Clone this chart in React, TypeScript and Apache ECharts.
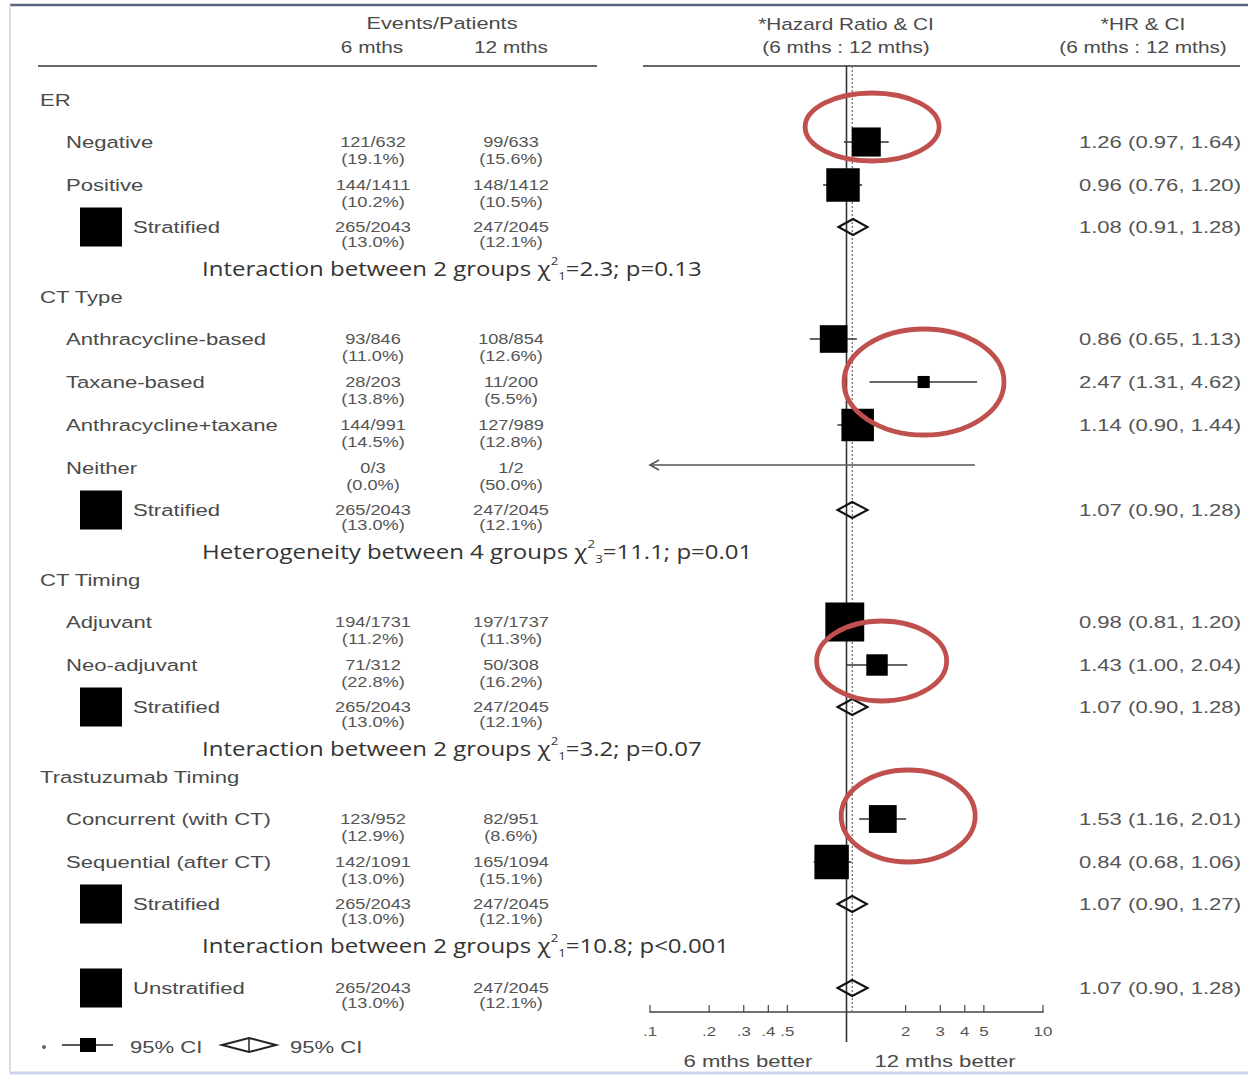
import React, { useEffect, useRef } from "react";
import * as echarts from "echarts";

// ---------------- data ----------------
const rowKinds = [
  "group", "sub", "sub", "strat", "test",
  "group", "sub", "sub", "sub", "sub", "strat", "test",
  "group", "sub", "sub", "strat", "test",
  "group", "sub", "sub", "strat", "test",
  "overall",
];
const rowLabels = [
  "ER", "Negative", "Positive", "Stratified", "",
  "CT Type", "Anthracycline-based", "Taxane-based", "Anthracycline+taxane", "Neither", "Stratified", "",
  "CT Timing", "Adjuvant", "Neo-adjuvant", "Stratified", "",
  "Trastuzumab Timing", "Concurrent (with CT)", "Sequential (after CT)", "Stratified", "",
  "Unstratified",
];
const events6 = [
  "", "121/632", "144/1411", "265/2043", "",
  "", "93/846", "28/203", "144/991", "0/3", "265/2043", "",
  "", "194/1731", "71/312", "265/2043", "",
  "", "123/952", "142/1091", "265/2043", "",
  "265/2043",
];
const pct6 = [
  "", "(19.1%)", "(10.2%)", "(13.0%)", "",
  "", "(11.0%)", "(13.8%)", "(14.5%)", "(0.0%)", "(13.0%)", "",
  "", "(11.2%)", "(22.8%)", "(13.0%)", "",
  "", "(12.9%)", "(13.0%)", "(13.0%)", "",
  "(13.0%)",
];
const events12 = [
  "", "99/633", "148/1412", "247/2045", "",
  "", "108/854", "11/200", "127/989", "1/2", "247/2045", "",
  "", "197/1737", "50/308", "247/2045", "",
  "", "82/951", "165/1094", "247/2045", "",
  "247/2045",
];
const pct12 = [
  "", "(15.6%)", "(10.5%)", "(12.1%)", "",
  "", "(12.6%)", "(5.5%)", "(12.8%)", "(50.0%)", "(12.1%)", "",
  "", "(11.3%)", "(16.2%)", "(12.1%)", "",
  "", "(8.6%)", "(15.1%)", "(12.1%)", "",
  "(12.1%)",
];
const hrVals = [
  null, 1.26, 0.96, 1.08, null,
  null, 0.86, 2.47, 1.14, null, 1.07, null,
  null, 0.98, 1.43, 1.07, null,
  null, 1.53, 0.84, 1.07, null,
  1.07,
];
const ciLow = [
  null, 0.97, 0.76, 0.91, null,
  null, 0.65, 1.31, 0.9, null, 0.9, null,
  null, 0.81, 1.0, 0.9, null,
  null, 1.16, 0.68, 0.9, null,
  0.9,
];
const ciHigh = [
  null, 1.64, 1.2, 1.28, null,
  null, 1.13, 4.62, 1.44, 4.5, 1.28, null,
  null, 1.2, 2.04, 1.28, null,
  null, 2.01, 1.06, 1.27, null,
  1.28,
];
const testPrefix = [
  "Interaction between 2 groups",
  "Heterogeneity between 4 groups",
  "Interaction between 2 groups",
  "Interaction between 2 groups",
];
const testDf = ["1", "3", "1", "1"];
const testChi = ["2.3", "11.1", "3.2", "10.8"];
const testP = ["p=0.13", "p=0.01", "p=0.07", "p<0.001"];
const overallHR = 1.07;
const tickValues = [0.1, 0.2, 0.3, 0.4, 0.5, 1, 2, 3, 4, 5, 10];
const tickLabels = [".1", ".2", ".3", ".4", ".5", "", "2", "3", "4", "5", "10"];

// ---------------- layout ----------------
const SX = 1.3;
const ARIAL = '"Liberation Sans", Arial, sans-serif';
const OPEN = '"Open Sans", "Noto Sans", sans-serif';
const PLOT_TOP = 66;
const PLOT_BOTTOM = 1012;
const BOX_K = 3.9;
const STEP: Record<string, number> = {
  "group>sub": 42, "sub>sub": 43, "sub>strat": 42, "strat>test": 41,
  "test>group": 29, "test>overall": 43,
};
const rowY: number[] = [];
rowKinds.forEach((k, i) => {
  rowY.push(i === 0 ? 100 : rowY[i - 1] + STEP[rowKinds[i - 1] + ">" + k]);
});
const circled = [
  { row: 1, hr: 1.35, dy: -15, rx: 67, ry: 34 },
  { row: 7, hr: 2.48, dy: 0, rx: 80, ry: 53 },
  { row: 14, hr: 1.51, dy: -4, rx: 65, ry: 40 },
  { row: 18, hr: 2.06, dy: -3, rx: 67, ry: 46 },
];

function txt(x: number, y: number, text: string, size: number, o: any = {}) {
  const align = o.align || "left";
  const style: any = {
    text, fontSize: size, fontFamily: o.font || ARIAL, fill: o.fill || "#4a4a4a",
    align, textAlign: align, verticalAlign: "middle", textVerticalAlign: "middle",
  };
  if (o.rich) { style.rich = o.rich; style.lineHeight = o.lineHeight; }
  return { type: "text", x, y, scaleX: o.sx ?? SX, silent: true, z: 10, style };
}
function line(x1: number, y1: number, x2: number, y2: number, stroke: string, lineWidth: number) {
  return { type: "line", silent: true, shape: { x1, y1, x2, y2 }, style: { stroke, lineWidth } };
}

export default function App() {
  const ref = useRef<HTMLDivElement>(null);
  useEffect(() => {
    if (!ref.current) return;
    const chart = echarts.init(ref.current, undefined, { renderer: "svg" });

    const g: any[] = [];
    // frame
    g.push(line(10, 5, 1248, 5, "#5a6581", 2.5));
    g.push(line(10, 5, 10, 1073, "#d2d2d2", 1.5));
    g.push(line(10, 1073, 1248, 1073, "#c9d5ee", 3));
    // headers
    g.push(txt(442, 24, "Events/Patients", 16, { align: "center", sx: 1.36 }));
    g.push(txt(372, 47, "6 mths", 16, { align: "center" }));
    g.push(txt(511, 47, "12 mths", 16, { align: "center" }));
    g.push(txt(846, 24, "*Hazard Ratio & CI", 16, { align: "center" }));
    g.push(txt(846, 47, "(6 mths : 12 mths)", 16, { align: "center" }));
    g.push(txt(1143, 24, "*HR & CI", 16, { align: "center" }));
    g.push(txt(1143, 47, "(6 mths : 12 mths)", 16, { align: "center" }));
    g.push(line(38, PLOT_TOP, 597, PLOT_TOP, "#666", 2));
    g.push(line(643, PLOT_TOP, 1240, PLOT_TOP, "#666", 2));

    let t = 0;
    rowKinds.forEach((k, i) => {
      const y = rowY[i];
      if (k === "group") g.push(txt(40, y, rowLabels[i], 17));
      if (k === "sub") g.push(txt(66, y, rowLabels[i], 17));
      if (k === "strat" || k === "overall") {
        g.push({ type: "rect", silent: true, shape: { x: 80, y: y - 19.5, width: 42, height: 39 }, style: { fill: "#000" } });
        g.push(txt(133, y, rowLabels[i], 17));
      }
      if (k === "test") {
        const rich = {
          sup: { fontSize: 11, fontFamily: OPEN, fill: "#333", verticalAlign: "top", lineHeight: 26 },
          sub: { fontSize: 11, fontFamily: OPEN, fill: "#333", verticalAlign: "bottom", lineHeight: 26 },
        };
        const s = `${testPrefix[t]} χ{sup|2}{sub|${testDf[t]}}=${testChi[t]}; ${testP[t]}`;
        g.push(txt(202, y, s, 20, { font: OPEN, fill: "#333", rich, lineHeight: 26, sx: 1.2 }));
        t++;
      }
      if (events6[i]) {
        const d = k === "sub" ? 17 : 15;
        g.push(txt(373, y, events6[i], 14, { align: "center", fill: "#555" }));
        g.push(txt(373, y + d, pct6[i], 14, { align: "center", fill: "#555" }));
        g.push(txt(511, y, events12[i], 14, { align: "center", fill: "#555" }));
        g.push(txt(511, y + d, pct12[i], 14, { align: "center", fill: "#555" }));
      }
      const hr = hrVals[i];
      if (hr != null) {
        const s = `${hr.toFixed(2)} (${(ciLow[i] as number).toFixed(2)}, ${(ciHigh[i] as number).toFixed(2)})`;
        g.push(txt(1241, y, s, 17, { align: "right", fill: "#555" }));
      }
    });

    // axis titles
    g.push(txt(748, 1061, "6 mths better", 17, { align: "center" }));
    g.push(txt(945, 1061, "12 mths better", 17, { align: "center" }));

    // legend
    const ly = 1045;
    g.push({ type: "circle", silent: true, shape: { cx: 44, cy: ly + 2, r: 2 }, style: { fill: "#666" } });
    g.push(line(62, ly, 113, ly, "#222", 1.6));
    g.push({ type: "rect", silent: true, shape: { x: 80, y: ly - 7, width: 16, height: 14 }, style: { fill: "#000" } });
    g.push(txt(130, ly + 2, "95% CI", 17));
    g.push({ type: "polygon", silent: true, shape: { points: [[222, ly], [249, ly - 7], [276, ly], [249, ly + 7]] }, style: { fill: "none", stroke: "#222", lineWidth: 2 } });
    g.push(line(249, ly - 7, 249, ly + 7, "#222", 1.5));
    g.push(txt(290, ly + 2, "95% CI", 17));

    const forestData: any[] = [];
    const arrowData: any[] = [];
    rowKinds.forEach((k, i) => {
      const hr = hrVals[i];
      if (hr != null) forestData.push([hr, rowY[i], ciLow[i], ciHigh[i], k === "sub" ? 0 : 1]);
      else if (ciHigh[i] != null) arrowData.push([ciHigh[i], rowY[i] - 3]);
    });

    const option: any = {
      animation: false,
      backgroundColor: "#fff",
      grid: { left: 650, right: 205, top: PLOT_TOP, bottom: 1076 - PLOT_BOTTOM, containLabel: false },
      xAxis: {
        type: "log", logBase: 10, min: 0.1, max: 10,
        axisLine: { show: true, onZero: false, lineStyle: { color: "#444", width: 1.6 } },
        axisTick: { show: false }, axisLabel: { show: false }, splitLine: { show: false },
      },
      yAxis: { type: "value", min: PLOT_TOP, max: PLOT_BOTTOM, inverse: true, show: false },
      series: [
        {
          type: "custom", clip: false, z: 2, silent: true,
          data: [[1, PLOT_TOP, 0], [overallHR, PLOT_TOP, 1]],
          encode: { x: 0, y: 1 },
          renderItem: (_p: any, api: any) => {
            const v = api.value(0);
            const dashed = api.value(2) === 1;
            const a = api.coord([v, PLOT_TOP]);
            const b = api.coord([v, PLOT_BOTTOM]);
            return {
              type: "line",
              shape: { x1: a[0], y1: a[1], x2: a[0], y2: b[1] + (dashed ? 0 : 30) },
              style: dashed
                ? { stroke: "#666", lineWidth: 1.2, lineDash: [2, 2] }
                : { stroke: "#333", lineWidth: 1.6 },
            };
          },
        },
        {
          type: "custom", clip: false, z: 3, silent: true,
          data: tickValues.map((v, i) => [v, PLOT_BOTTOM, i]),
          encode: { x: 0, y: 1 },
          renderItem: (_p: any, api: any) => {
            const v = api.value(0);
            const i = api.value(2);
            const pt = api.coord([v, PLOT_BOTTOM]);
            const ch: any[] = [];
            if (v !== 1) ch.push({ type: "line", shape: { x1: pt[0], y1: pt[1], x2: pt[0], y2: pt[1] - 7 }, style: { stroke: "#444", lineWidth: 1.2 } });
            if (tickLabels[i]) ch.push({
              type: "text", x: pt[0], y: pt[1] + 19, scaleX: SX,
              style: { text: tickLabels[i], fontSize: 13, fontFamily: ARIAL, fill: "#555", align: "center", textAlign: "center", verticalAlign: "middle", textVerticalAlign: "middle" },
            });
            return { type: "group", children: ch };
          },
        },
        {
          type: "custom", clip: false, z: 5, silent: true,
          data: forestData,
          encode: { x: 0, y: 1 },
          renderItem: (_p: any, api: any) => {
            const hr = api.value(0), y = api.value(1), lo = api.value(2), hi = api.value(3), pooled = api.value(4);
            const c = api.coord([hr, y]);
            const l = api.coord([lo, y]);
            const h = api.coord([hi, y]);
            if (pooled) {
              return {
                type: "polygon",
                shape: { points: [[l[0], c[1]], [c[0], c[1] - 8], [h[0], c[1]], [c[0], c[1] + 8]] },
                style: { fill: "none", stroke: "#111", lineWidth: 2 },
              };
            }
            const se = (Math.log(hi) - Math.log(lo)) / 3.92;
            const side = BOX_K / se;
            return {
              type: "group",
              children: [
                { type: "line", shape: { x1: l[0], y1: c[1], x2: h[0], y2: c[1] }, style: { stroke: "#333", lineWidth: 1.5 } },
                { type: "rect", shape: { x: c[0] - side / 2, y: c[1] - side / 2, width: side, height: side }, style: { fill: "#000" } },
              ],
            };
          },
        },
        {
          type: "custom", clip: false, z: 5, silent: true,
          data: arrowData,
          encode: { x: 0, y: 1 },
          renderItem: (_p: any, api: any) => {
            const hi = api.value(0), y = api.value(1);
            const h = api.coord([hi, y]);
            const l = api.coord([0.1, y]);
            return {
              type: "group",
              children: [
                { type: "line", shape: { x1: h[0], y1: h[1], x2: l[0], y2: l[1] }, style: { stroke: "#555", lineWidth: 1.6 } },
                { type: "polyline", shape: { points: [[l[0] + 9, l[1] - 5], [l[0], l[1]], [l[0] + 9, l[1] + 5]] }, style: { stroke: "#555", lineWidth: 1.6, fill: "none" } },
              ],
            };
          },
        },
        {
          type: "custom", clip: false, z: 8, silent: true,
          data: circled.map((c) => [c.hr, rowY[c.row] + c.dy, c.rx, c.ry]),
          encode: { x: 0, y: 1 },
          renderItem: (_p: any, api: any) => {
            const c = api.coord([api.value(0), api.value(1)]);
            return {
              type: "ellipse",
              shape: { cx: c[0], cy: c[1], rx: api.value(2), ry: api.value(3) },
              style: { fill: "none", stroke: "#c0504d", lineWidth: 4.8 },
            };
          },
        },
      ],
      graphic: { elements: g },
    };
    chart.setOption(option);
    return () => chart.dispose();
  }, []);
  return (
    <div
      ref={ref}
      style={{ position: "fixed", left: 0, top: 0, width: 1248, height: 1076, background: "#fff" }}
    />
  );
}
